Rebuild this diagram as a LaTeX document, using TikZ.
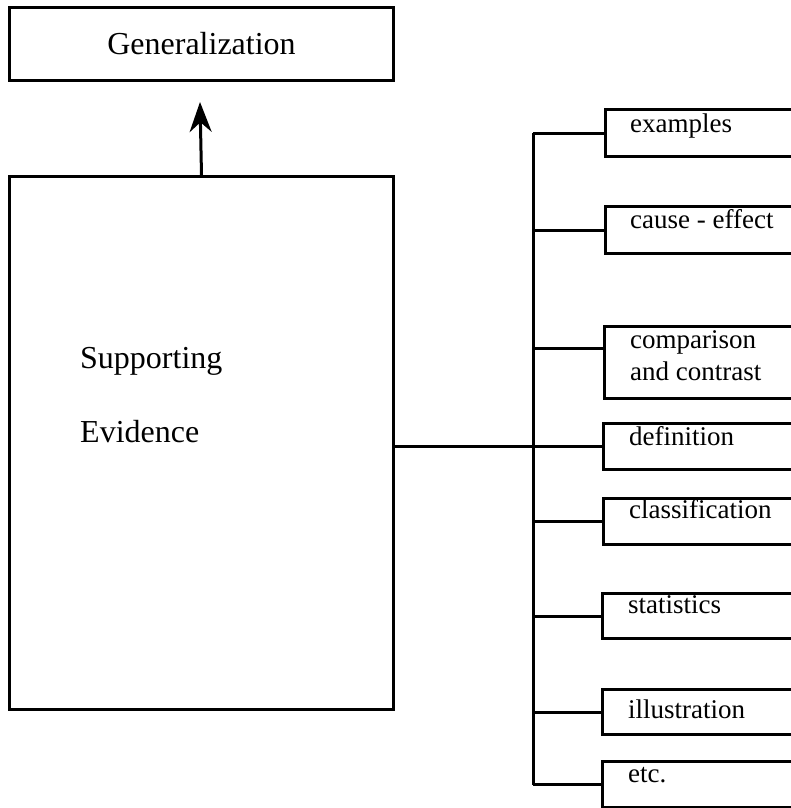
\documentclass[tikz,border=0pt]{standalone}
\usepackage{fontspec}
\setmainfont{Liberation Serif}
\usetikzlibrary{arrows.meta,positioning}

\begin{document}
\begin{tikzpicture}
[x=1pt,y=-1pt,
box/.style={draw,line width=3pt,rectangle,inner sep=0pt,anchor=north west},
bigtext/.style={font=\fontsize{32}{38}\selectfont},
kind/.style={box,minimum width=230pt,minimum height=46pt},
kindtext/.style={font=\fontsize{27}{32}\selectfont,inner sep=0pt,anchor=base west,align=left},
link/.style={line width=3pt},
up/.style={link,-{Stealth[length=30pt,width=22pt]}}]
\useasboundingbox (0,0) rectangle (791,808);
\clip (0,0) rectangle (791,808);
% left side
\node[box,bigtext,minimum width=384pt,minimum height=73pt] (gen) at (8,6) {Generalization};
\node[box,minimum width=384pt,minimum height=533pt] (sup) at (8,175) {};
\node[bigtext,inner sep=0pt,anchor=base west] (supa) at (80,368) {Supporting};
\node[bigtext,inner sep=0pt,anchor=base west] (supb) at (80,442) {Evidence};
\coordinate (tip) at (200,102);
\draw[up] (sup.north) -- (tip);
% right side
\coordinate (trunk) at (533,0);
\node[kind,minimum height=47pt] (ex) at (604,108) {};
\node[kind,minimum height=47pt] (cause) at (604,205) {};
\node[kind,minimum height=72pt] (cmp) at (603,325) {};
\node[kind] (def) at (602,422) {};
\node[kind] (cls) at (602,497) {};
\node[kind,minimum height=45pt] (stat) at (601,592) {};
\node[kind,minimum height=45pt] (ill) at (601,688) {};
\node[kind] (etc) at (601,760) {};
\node[kindtext] (extext) at ([shift={(26,24)}]ex.north west) {examples};
\node[kindtext] (causetext) at ([shift={(26,23)}]cause.north west) {cause - effect};
\node[kindtext] (cmptext) at ([shift={(27,55)}]cmp.north west) {comparison\\and contrast};
\node[kindtext] (deftext) at ([shift={(27,23)}]def.north west) {definition};
\node[kindtext] (clstext) at ([shift={(27,21)}]cls.north west) {classification};
\node[kindtext] (stattext) at ([shift={(27,21)}]stat.north west) {statistics};
\node[kindtext] (illtext) at ([shift={(27,30)}]ill.north west) {illustration};
\node[kindtext] (etctext) at ([shift={(27,22)}]etc.north west) {etc.};
\coordinate (cmpin) at ([yshift=-23pt]cmp.north west);
\draw[link] (trunk |- ex.west) -- (trunk |- etc.west);
\foreach \k in {ex,cause,def,cls,stat,ill,etc}
  \draw[link] (trunk |- \k.west) -- (\k.west);
\draw[link] (trunk |- cmpin) -- (cmpin);
\draw[link] (sup.east |- def.west) -- (trunk |- def.west);
\end{tikzpicture}
\end{document}
